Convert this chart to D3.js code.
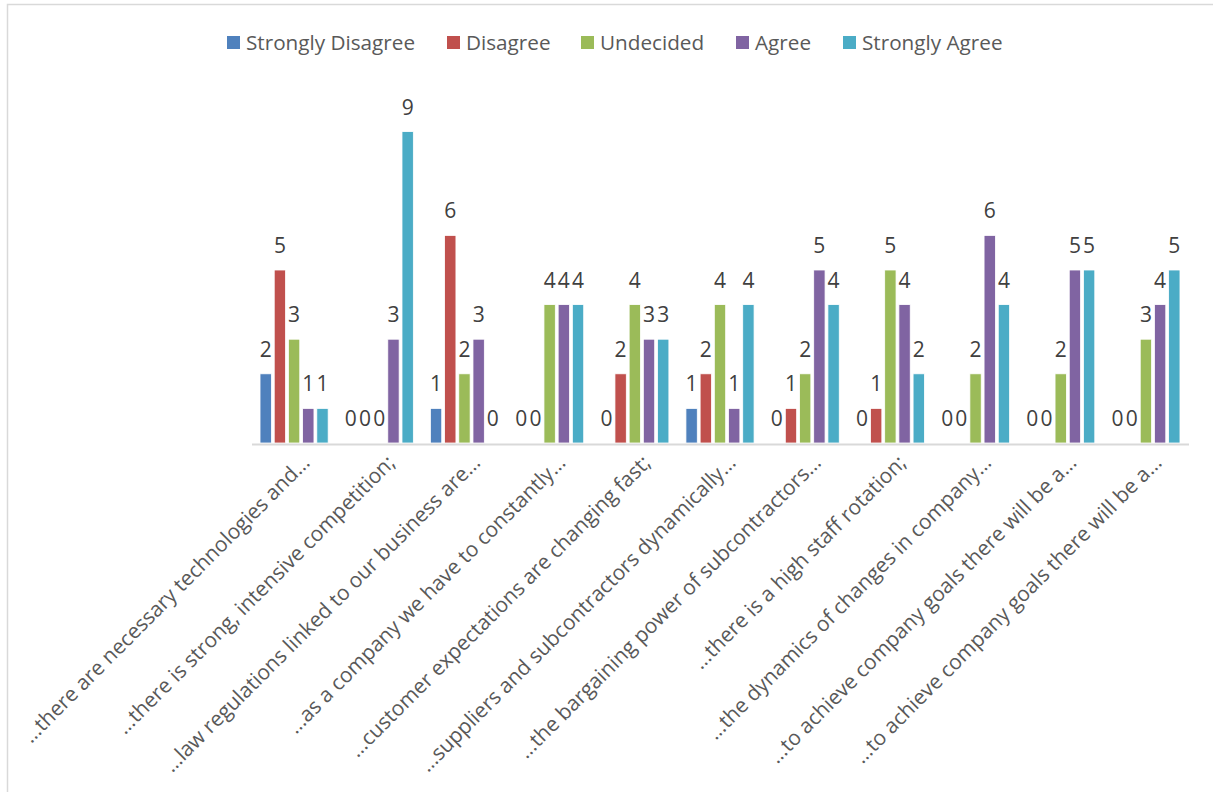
<!DOCTYPE html>
<html>
<head>
<meta charset="utf-8">
<script src="https://cdn.jsdelivr.net/npm/d3@7"></script>
<style>
  html, body { margin: 0; padding: 0; background: #fff; }
  svg { display: block; }
  text { font-family: "Open Sans", "Noto Sans", sans-serif; }
</style>
</head>
<body>
<svg id="chart" width="1213" height="792"></svg>
<script>
const categories = [
  "…there are necessary technologies and…",
  "…there is strong, intensive competition;",
  "…law regulations linked to our business are…",
  "…as a company we have to constantly…",
  "…customer expectations are changing fast;",
  "…suppliers and subcontractors dynamically…",
  "…the bargaining power of subcontractors…",
  "…there is a high staff rotation;",
  "…the dynamics of changes in company…",
  "…to achieve company goals there will be a…",
  "…to achieve company goals there will be a…"
];
const seriesNames = ["Strongly Disagree", "Disagree", "Undecided", "Agree", "Strongly Agree"];
const stronglyDisagree = [2, 0, 1, 0, 0, 1, 0, 0, 0, 0, 0];
const disagree         = [5, 0, 6, 0, 2, 2, 1, 1, 0, 0, 0];
const undecided        = [3, 0, 2, 4, 4, 4, 2, 5, 2, 2, 3];
const agree            = [1, 3, 3, 4, 3, 1, 5, 4, 6, 5, 4];
const stronglyAgree    = [1, 9, 0, 4, 3, 4, 4, 2, 4, 5, 5];
const colors = ["#4F81BD", "#C0504D", "#9BBB59", "#8064A2", "#4BACC6"];

const seriesValues = [stronglyDisagree, disagree, undecided, agree, stronglyAgree];

const svg = d3.select("#chart");
const W = 1213, H = 792;

// chart border
svg.append("rect").attr("x", 7.5).attr("y", 4.5).attr("width", W).attr("height", H)
  .attr("fill", "none").attr("stroke", "#d9d9d9").attr("stroke-width", 1.5);

const plotLeft = 251.5, plotRight = 1188.5, plotBottom = 443, plotTop = 97;

const x = d3.scaleBand().domain(d3.range(categories.length)).range([plotLeft, plotRight]).padding(0);
const xInner = d3.scaleBand().domain(d3.range(seriesNames.length)).range([0, x.bandwidth()])
  .paddingInner(0.2).paddingOuter(0.6);
const y = d3.scaleLinear().domain([0, 10]).range([plotBottom, plotTop]);

const data = [];
categories.forEach((c, ci) => {
  seriesValues.forEach((vals, si) => data.push({ ci, si, v: vals[ci] }));
});

// bars
svg.append("g").selectAll("rect").data(data.filter(d => d.v > 0)).join("rect")
  .attr("x", d => x(d.ci) + xInner(d.si))
  .attr("y", d => y(d.v))
  .attr("width", xInner.bandwidth())
  .attr("height", d => y(0) - y(d.v))
  .attr("fill", d => colors[d.si])
  .attr("stroke", "#fff").attr("stroke-width", 0.8);

// baseline axis
const xAxis = d3.axisBottom(x).tickSize(0).tickFormat("");
const gx = svg.append("g").attr("transform", `translate(0,${plotBottom + 1})`).call(xAxis);
gx.select(".domain").attr("stroke", "#d9d9d9").attr("stroke-width", 2);

// category labels
svg.append("g").selectAll("text").data(categories).join("text")
  .attr("transform", (d, i) => `translate(${x(i) + x.bandwidth() / 2 + 17},${464}) rotate(-45)`)
  .attr("text-anchor", "end")
  .attr("font-size", 20.9)
  .attr("fill", "#595959")
  .text(d => d);

// data labels
svg.append("g").selectAll("text").data(data).join("text")
  .attr("x", d => x(d.ci) + xInner(d.si) + xInner.bandwidth() / 2)
  .attr("y", d => y(d.v) - 17)
  .attr("text-anchor", "middle")
  .attr("font-size", 21)
  .attr("fill", "#404040")
  .text(d => d.v);

// legend
const legendX = [227, 447, 581, 736, 843];
const lg = svg.append("g");
seriesNames.forEach((name, i) => {
  lg.append("rect").attr("x", legendX[i]).attr("y", 36).attr("width", 13).attr("height", 13).attr("fill", colors[i]);
  lg.append("text").attr("x", legendX[i] + 19).attr("y", 50)
    .attr("font-size", 20.7).attr("fill", "#595959").text(name);
});
</script>
</body>
</html>
